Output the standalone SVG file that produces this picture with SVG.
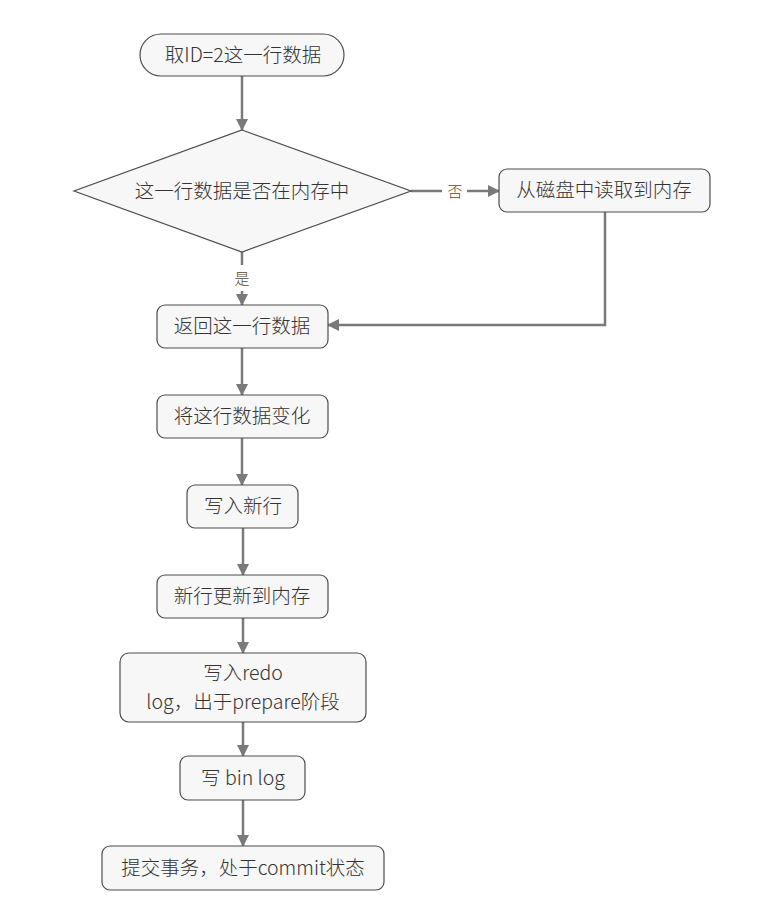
<svg xmlns="http://www.w3.org/2000/svg" width="779" height="902" viewBox="0 0 779 902">
<defs>
<marker id="arr" markerWidth="12" markerHeight="12" refX="11" refY="6" orient="auto" markerUnits="userSpaceOnUse">
<path d="M0,0 L12,6 L0,12 Z" fill="#7a7a7a"/>
</marker>
<style>
.n{fill:#f7f7f7;stroke:#4d4d4d;stroke-width:1.2}
.t{font-family:"Noto Sans CJK SC","Noto Sans",sans-serif;font-size:19.5px;font-weight:300;fill:#333;text-anchor:middle}
.l{font-family:"Noto Sans CJK SC",sans-serif;font-size:15px;font-weight:300;fill:#5a4a2a;text-anchor:middle}
.c{fill:none;stroke:#7a7a7a;stroke-width:2.5}
</style>
</defs>
<rect width="779" height="902" fill="#fff"/>
<g id="connectors">
<line class="c" x1="242" y1="76" x2="242" y2="130" marker-end="url(#arr)"/>
<line class="c" x1="411" y1="191" x2="442" y2="191"/>
<line class="c" x1="467" y1="191" x2="499" y2="191" marker-end="url(#arr)"/>
<text class="l" x="455" y="197">否</text>
<line class="c" x1="242" y1="252" x2="242" y2="265"/>
<text class="l" x="242" y="284">是</text>
<line class="c" x1="242" y1="291" x2="242" y2="305" marker-end="url(#arr)"/>
<polyline class="c" points="605,212 605,325 328,325" marker-end="url(#arr)"/>
<line class="c" x1="242" y1="348" x2="242" y2="395" marker-end="url(#arr)"/>
<line class="c" x1="242" y1="438" x2="242" y2="485" marker-end="url(#arr)"/>
<line class="c" x1="243" y1="528" x2="243" y2="575" marker-end="url(#arr)"/>
<line class="c" x1="243" y1="618" x2="243" y2="653" marker-end="url(#arr)"/>
<line class="c" x1="243" y1="722" x2="243" y2="756" marker-end="url(#arr)"/>
<line class="c" x1="243" y1="800" x2="243" y2="846" marker-end="url(#arr)"/>
</g>
<g id="n1"><rect class="n" x="140" y="34" width="204" height="42" rx="21"/><text class="t" x="243" y="62">取ID=2这一行数据</text></g>
<g id="n2"><polygon class="n" points="242,130 411,191 242,252 74,191"/><text class="t" x="242" y="198">这一行数据是否在内存中</text></g>
<g id="n3"><rect class="n" x="499" y="169" width="211" height="43" rx="8"/><text class="t" x="604" y="197">从磁盘中读取到内存</text></g>
<g id="n4"><rect class="n" x="157" y="305" width="171" height="43" rx="8"/><text class="t" x="242" y="333">返回这一行数据</text></g>
<g id="n5"><rect class="n" x="157" y="395" width="171" height="43" rx="8"/><text class="t" x="242" y="423">将这行数据变化</text></g>
<g id="n6"><rect class="n" x="187" y="485" width="111" height="43" rx="8"/><text class="t" x="243" y="513">写入新行</text></g>
<g id="n7"><rect class="n" x="157" y="575" width="171" height="43" rx="8"/><text class="t" x="242" y="603">新行更新到内存</text></g>
<g id="n8"><rect class="n" x="120" y="653" width="246" height="69" rx="9"/><text class="t" x="243" y="680">写入redo</text><text class="t" x="243" y="709">log，出于prepare阶段</text></g>
<g id="n9"><rect class="n" x="180" y="756" width="125" height="44" rx="8"/><text class="t" x="243" y="785">写 bin log</text></g>
<g id="n10"><rect class="n" x="102" y="846" width="282" height="44" rx="8"/><text class="t" x="243" y="875">提交事务，处于commit状态</text></g>
</svg>
